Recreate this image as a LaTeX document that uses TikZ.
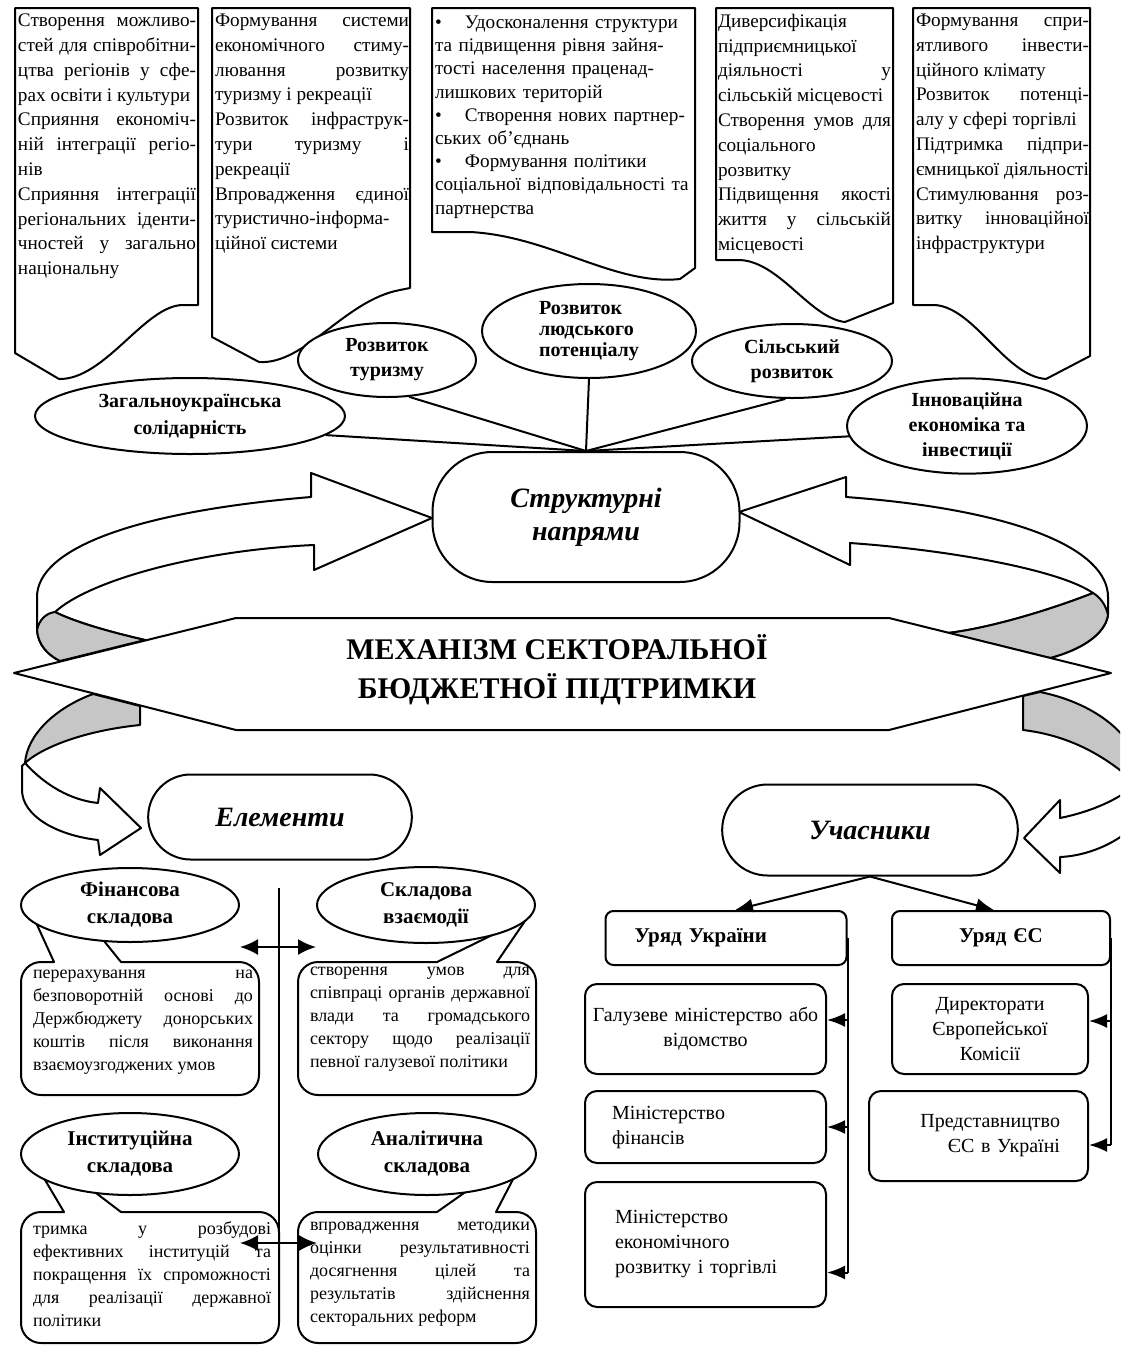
\documentclass[tikz,border=0pt]{standalone}
\usepackage{fontspec}
\setmainfont{Liberation Serif}
\usetikzlibrary{shapes.geometric,shapes.misc,arrows.meta}
\newcommand{\nohyph}{\hyphenpenalty=10000 \exhyphenpenalty=10000 }
\tikzset{
  mechanism/.style={
    x=0.5pt, y=-0.5pt, line width=1pt, line join=round,
    doc/.style={draw, fill=white},
    doc text/.style={anchor=north west, inner sep=0pt, align=justify,
      font=\fontsize{9.6}{12.4}\selectfont\nohyph},
    topic/.style={ellipse, draw, fill=white, inner sep=0pt, align=center,
      font=\bfseries\fontsize{10}{12.5}\selectfont},
    band/.style={draw, fill=white},
    band back/.style={draw, fill=gray!45},
    hub/.style={draw, fill=white, rounded corners=30pt, minimum width=153.5pt,
      minimum height=65pt, align=center,
      font=\bfseries\itshape\fontsize{14}{16.5}\selectfont},
    pill/.style={rounded rectangle, draw, fill=white,
      font=\bfseries\itshape\fontsize{14}{16}\selectfont},
    callout box/.style={draw, fill=white},
    component/.style={ellipse, draw, fill=white, inner sep=0pt, align=center,
      minimum width=109pt, font=\bfseries\fontsize{10.5}{13.5}\selectfont},
    component text/.style={anchor=north west, inner sep=0pt, align=justify,
      font=\fontsize{9}{11.5}\selectfont\nohyph},
    unit box/.style={draw, fill=white, rounded corners=6pt, inner ysep=2pt,
      font=\fontsize{10}{12.5}\selectfont},
    gov box/.style={unit box, rounded corners=4pt, minimum height=27pt,
      font=\bfseries\fontsize{10.5}{12.5}\selectfont},
    link/.style={-{Latex[length=9pt,width=7pt]}},
    both ways/.style={{Latex[length=9pt,width=8pt]}-{Latex[length=9pt,width=8pt]}},
  }
}
% rounded box with a tail: #1 tail path (on the top edge, left to right),
% #2 left, #3 right, #4 top, #5 bottom
\newcommand{\calloutbox}[5]{%
  \draw[callout box] #1 -- ({#3-20},#4) .. controls ({#3-9},#4) and (#3,{#4+9}) .. (#3,{#4+20})
    -- (#3,{#5-20}) .. controls (#3,{#5-9}) and ({#3-9},#5) .. ({#3-20},#5)
    -- ({#2+20},#5) .. controls ({#2+9},#5) and (#2,{#5-9}) .. (#2,{#5-20})
    -- (#2,{#4+20}) .. controls (#2,{#4+9}) and ({#2+9},#4) .. ({#2+20},#4) -- cycle;
}

\begin{document}
\begin{tikzpicture}[mechanism]
\useasboundingbox (0,0) rectangle (1120,1345);

% top sheets
\draw[doc] (15,8) -- (198,8) -- (198,305) -- (183,305) .. controls (145,305) and (105,380) .. (59,379) -- (15,353) -- cycle;
\draw[doc] (212,8) -- (410,8) -- (410,288) -- (400,290) .. controls (345,300) and (305,365) .. (259,362) -- (212,337) -- cycle;
\draw[doc] (432,8) -- (695,8) -- (695,268) -- (680,279) .. controls (615,286) and (550,236) .. (470,232) -- (432,232) -- cycle;
\draw[doc] (716,8) -- (893,8) -- (893,303) -- (845,322) .. controls (810,318) and (780,262) .. (740,260) -- (716,260) -- cycle;
\draw[doc] (913,8) -- (1090,8) -- (1090,356) -- (1046,379) .. controls (1005,376) and (975,308) .. (935,305) -- (913,305) -- cycle;

\node[doc text, text width=89pt] (sol) at (17,13) {Створення можливо-\linebreak стей для співробітни-\linebreak цтва регіонів у сфе-\linebreak рах освіти і культури\\
Сприяння економіч-\linebreak ній інтеграції регіо-\linebreak нів\\
Сприяння інтеграції\linebreak регіональних іденти-\linebreak чностей у загально\linebreak національну};
\node[doc text, text width=97pt] (tour) at (214,13) {Формування системи\linebreak економічного стиму-\linebreak лювання розвитку\linebreak туризму і рекреації\\
Розвиток інфраструк-\linebreak тури туризму і\linebreak рекреації\\
Впровадження єдиної\linebreak туристично-інформа-\\ ційної системи};
\node[doc text, text width=128pt, align=left, font=\fontsize{9.6}{11.6}\selectfont\nohyph] (human) at (434,15) {\makebox[15pt][l]{\textbullet}Удосконалення структури\\ та підвищення рівня зайня-\\ тості населення праценад-\\ лишкових територій\\
\makebox[15pt][l]{\textbullet}Створення нових партнер-\\ ських об’єднань\\
\makebox[15pt][l]{\textbullet}Формування політики\\ соціальної відповідальності та\\ партнерства};
\node[doc text, text width=86.5pt] (rural) at (717,13) {Диверсифікація\linebreak підприємницької\linebreak діяльності у\linebreak сільській місцевості\\
Створення умов для\linebreak соціального\linebreak розвитку\\
Підвищення якості\linebreak життя у сільській\linebreak місцевості};
\node[doc text, text width=86.5pt] (innov) at (915,13) {Формування спри-\linebreak ятливого інвести-\linebreak ційного клімату\\
Розвиток потенці-\linebreak алу у сфері торгівлі\\
Підтримка підпри-\linebreak ємницької діяльності\\
Стимулювання роз-\linebreak витку інноваційної\linebreak інфраструктури};

% ribbons round the mechanism
\begin{scope}
  \clip (0,0) rectangle (1120,1345);
  \draw[band] (311,497) .. controls (130,512) and (37,550) .. (37,597) -- (37,630)
    .. controls (38,645) and (48,655) .. (60,661) -- (145,640)
    .. controls (110,632) and (75,622) .. (55,612)
    .. controls (90,580) and (200,550) .. (314,545) -- (314,570) -- (432,518) -- (311,473) -- cycle;
  \draw[band back] (55,612) .. controls (75,622) and (110,632) .. (145,640) -- (60,661)
    .. controls (48,655) and (38,645) .. (37,630) .. controls (39,620) and (46,613) .. (55,612) -- cycle;
  \draw[band] (846,497) .. controls (1020,510) and (1108,550) .. (1108,597) -- (1108,615)
    .. controls (1105,635) and (1080,650) .. (1050,658) -- (948,633)
    .. controls (990,628) and (1050,610) .. (1093,593)
    .. controls (1060,570) and (950,550) .. (850,543) -- (850,565) -- (739,512) -- (846,477) -- cycle;
  \draw[band back] (1093,593) .. controls (1050,610) and (990,628) .. (948,633) -- (1050,658)
    .. controls (1080,650) and (1105,635) .. (1108,615) .. controls (1106,605) and (1100,597) .. (1093,593) -- cycle;
  \draw[band back] (93,694) -- (140,706) -- (140,725) .. controls (90,730) and (45,745) .. (25,763)
    .. controls (27,735) and (55,708) .. (93,694) -- cycle;
  \draw[band] (25,763) .. controls (45,785) and (70,800) .. (98,803) -- (100,788) -- (141,828)
    -- (100,855) -- (98,840) .. controls (55,835) and (22,815) .. (22,790) -- (22,766) -- cycle;
  \draw[band back] (1023,696) -- (1040,692) .. controls (1080,700) and (1115,720) .. (1132,748) -- (1132,780)
    .. controls (1100,752) and (1065,735) .. (1023,730) -- cycle;
  \draw[band] (1060,818) .. controls (1090,812) and (1118,800) .. (1135,785) -- (1135,825)
    .. controls (1115,845) and (1085,856) .. (1060,857) -- (1060,873) -- (1024,838) -- (1060,800) -- cycle;
\end{scope}
\draw[band] (14,673) -- (236,618) -- (889,618) -- (1111,673) -- (889,730) -- (236,730) -- cycle;
\node[align=center, font=\bfseries\fontsize{15}{19.5}\selectfont] (mech) at (557,670)
  {МЕХАНІЗМ СЕКТОРАЛЬНОЇ\\БЮДЖЕТНОЇ ПІДТРИМКИ};

% structural directions
\node[hub] (str) at (586,517) {Структурні\\напрями};
\node[topic, minimum width=155pt, minimum height=38pt, font=\bfseries\fontsize{10}{13.5}\selectfont] (zag) at (190,416) {Загальноукраїнська\\солідарність};
\node[topic, minimum width=89pt, minimum height=37pt] (tur) at (387,360) {Розвиток\\туризму};
\node[topic, minimum width=107pt, minimum height=47pt, align=left, font=\bfseries\fontsize{10}{10.5}\selectfont] (lud) at (589,331) {Розвиток\\людського\\потенціалу};
\node[topic, minimum width=100pt, minimum height=37pt] (sil) at (792,361) {Сільський\\розвиток};
\node[topic, minimum width=120pt, minimum height=46pt] (inn) at (967,426) {Інноваційна\\економіка та\\інвестиції};
\draw (zag.-8) -- (str.north);
\draw (tur.-59) -- (str.north);
\draw (lud.south) -- (str.north);
\draw (sil.260) -- (str.north);
\draw (inn.185) -- (str.north);

% elements
\node[pill, minimum width=138.5pt, minimum height=42.5pt] (elem) at (280,817) {Елементи};
\coordinate (spine) at (279,888);
\coordinate (joinA) at (279,947);
\coordinate (joinB) at (279,1243);
\draw (spine) -- (joinB);
\calloutbox{(54,962) -- (28,905) -- (75,905) -- (121,962)}{21}{259}{962}{1095}
\calloutbox{(437,962) -- (527,918) -- (497,962)}{298}{536}{962}{1095}
\calloutbox{(64,1212) -- (35,1163) -- (71,1174) -- (121,1212)}{21}{279}{1212}{1343}
\calloutbox{(437,1212) -- (491,1174) -- (523,1160) -- (496,1212)}{298}{536}{1212}{1343}
\node[component, minimum height=37pt] (fin) at (130,905) {Фінансова\\складова};
\node[component, minimum height=38pt] (vzaem) at (426,905) {Складова\\взаємодії};
\node[component, minimum height=41pt] (inst) at (130,1154) {Інституційна\\складова};
\node[component, minimum height=41pt] (anal) at (427,1154) {Аналітична\\складова};
\node[component text, text width=110pt] (finT) at (32,969) {перерахування на\linebreak безповоротній основі до\linebreak Держбюджету донорських\linebreak коштів після виконання\linebreak взаємоузгоджених умов};
\node[component text, text width=110pt] (vzaemT) at (309,966) {створення умов для\linebreak співпраці органів державної\linebreak влади та громадського\linebreak сектору щодо реалізації\linebreak певної галузевої політики};
\node[component text, text width=119pt] (instT) at (32,1221) {тримка у розбудові\linebreak ефективних інституцій та\linebreak покращення їх спроможності\linebreak для реалізації державної\linebreak політики};
\node[component text, text width=110pt] (analT) at (309,1221) {впровадження методики\linebreak оцінки результативності\linebreak досягнення цілей та\linebreak результатів здійснення\linebreak секторальних реформ};
\draw[both ways] (fin.east |- joinA) -- (vzaem.west |- joinA);
\draw[both ways] (inst.east |- joinB) -- (anal.west |- joinB);

% participants
\node[pill, minimum width=154.5pt, minimum height=45.5pt] (uch) at (870,830) {Учасники};
\node[gov box, text width=91.5pt, inner xsep=14.5pt, align=left] (urUA) at (726,938) {Уряд України};
\node[gov box, text width=101pt, inner xsep=4pt, align=center] (urEU) at (1001,938) {Уряд ЄС};
\node[unit box, text width=114pt, inner xsep=3.25pt, minimum height=45pt, align=center] (galuz) at (705.5,1029) {Галузеве міністерство або\\відомство};
\node[unit box, text width=93.5pt, inner xsep=13.5pt, minimum height=36pt, align=left] (minfin) at (705.5,1127) {Міністерство\\фінансів};
\node[unit box, text width=90.5pt, inner xsep=15pt, minimum height=62.5pt, align=left] (minek) at (705.5,1244.5) {Міністерство\\економічного\\розвитку і торгівлі};
\node[unit box, text width=92pt, inner xsep=3pt, minimum height=45pt, align=center] (direct) at (990,1029) {Директорати\\Європейської\\Комісії};
\node[unit box, text width=81.5pt, inner xsep=14pt, minimum height=45pt, align=right] (predst) at (978.5,1136) {Представництво\\ЄС в Україні};
\draw[link] (uch.south) -- ([xshift=4.5pt]urUA.north);
\draw[link] (uch.south) -- ([xshift=-3.5pt]urEU.north);
\coordinate (galuzIn) at ([yshift=4.5pt]galuz.east);
\coordinate (minekIn) at ([yshift=-14pt]minek.east);
\coordinate (directIn) at ([yshift=4pt]direct.east);
\coordinate (predstIn) at ([yshift=-4.5pt]predst.east);
\draw (urUA.east) -- (minekIn -| urUA.east);
\draw[link] (galuzIn -| urUA.east) -- (galuzIn);
\draw[link] (urUA.east |- minfin.east) -- (minfin.east);
\draw[link] (minekIn -| urUA.east) -- (minekIn);
\draw (urEU.east) -- (predstIn -| urEU.east);
\draw[link] (directIn -| urEU.east) -- (directIn);
\draw[link] (predstIn -| urEU.east) -- (predstIn);
\end{tikzpicture}
\end{document}
